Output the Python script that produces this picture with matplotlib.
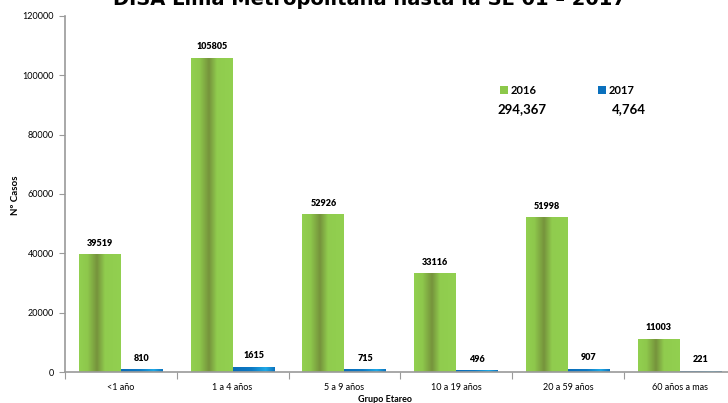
import matplotlib.pyplot as plt
import numpy as np
from matplotlib.colors import LinearSegmentedColormap
from matplotlib.patches import Rectangle

# casos por grupo etareo
grupos = ["<1 año", "1 a 4 años", "5 a 9 años", "10 a 19 años", "20 a 59 años", "60 años a mas"]
casos_2016 = [39519, 105805, 52926, 33116, 51998, 11003]
casos_2017 = [810, 1615, 715, 496, 907, 221]
y_ticks = [0, 20000, 40000, 60000, 80000, 100000, 120000]

FONT = "Lato"
GRAY = "#9a9a9a"

# horizontal gradients that mimic the shaded bars
green_cmap = LinearSegmentedColormap.from_list(
    "verde", [(0, "#92d050"), (0.2, "#8ec84c"), (0.43, "#76933c"), (0.62, "#90cc4e"), (1, "#92d050")])
blue_cmap = LinearSegmentedColormap.from_list(
    "azul", [(0, "#0a6cb8"), (0.45, "#0d7ac4"), (0.78, "#1fa9e6"), (1, "#0c72bd")])

fig = plt.figure(figsize=(7.28, 4.03), dpi=100)
W, H = 728, 403
ax = fig.add_axes([65 / W, 31 / H, 670.5 / W, 356 / H])

x = np.arange(len(grupos))
bw = 0.375
b16 = ax.bar(x - bw / 2, casos_2016, bw, color="none")
b17 = ax.bar(x + bw / 2, casos_2017, bw, color="none")

grad = np.linspace(0, 1, 256).reshape(1, -1)
for bars, cmap in ((b16, green_cmap), (b17, blue_cmap)):
    for r in bars:
        x0, w, h = r.get_x(), r.get_width(), r.get_height()
        ax.imshow(grad, cmap=cmap, extent=[x0, x0 + w, 0, h], aspect="auto", zorder=2)
        ax.annotate(f"{h:.0f}", (x0 + w / 2, h), xytext=(0, 5), textcoords="offset points",
                    ha="center", va="bottom", fontsize=6.5, fontweight="heavy", family=FONT)

ax.set_xlim(-0.5, len(grupos) - 0.5)
ax.set_ylim(0, 120000)

# category ticks sit between groups, labels at the centres
ax.set_xticks(np.arange(len(grupos) + 1) - 0.5)
ax.set_xticklabels([])
ax.set_xticks(x, minor=True)
ax.set_xticklabels(grupos, minor=True, fontsize=6.5, family=FONT)
ax.tick_params(axis="x", which="major", length=5, color=GRAY, width=0.8)
ax.tick_params(axis="x", which="minor", length=0, pad=8)

ax.set_yticks(y_ticks)
ax.set_yticklabels([str(v) for v in y_ticks], fontsize=6.5, family=FONT)
ax.tick_params(axis="y", length=4, color=GRAY, width=0.8, pad=4)

for s in ("top", "right"):
    ax.spines[s].set_visible(False)
for s in ("left", "bottom"):
    ax.spines[s].set_color(GRAY)
    ax.spines[s].set_linewidth(1.2)

fig.text(15 / W, 1 - 195 / H, "Nº Casos", rotation=90, ha="center", va="center",
         fontsize=7, fontweight="bold", family=FONT)
fig.text(385 / W, 1 - 400 / H, "Grupo Etareo", ha="center", va="center",
         fontsize=6.5, fontweight="bold", family=FONT)

fig.text(369 / W, 1 - 5 / H, "DISA Lima Metropolitana hasta la SE 01 – 2017", ha="center",
         va="baseline", fontsize=14, fontweight="bold", family="DejaVu Sans")

# totals block with its legend swatches
fig.add_artist(Rectangle((500 / W, 1 - 94 / H), 8 / W, 8 / H, transform=fig.transFigure,
                         facecolor="#8cc84a", edgecolor="none"))
fig.add_artist(Rectangle((598 / W, 1 - 94 / H), 8 / W, 8 / H, transform=fig.transFigure,
                         facecolor="#0a70bd", edgecolor="none"))
fig.text(511 / W, 1 - 90 / H, "2016", ha="left", va="center", fontsize=8, fontweight="bold", family=FONT)
fig.text(609 / W, 1 - 90 / H, "2017", ha="left", va="center", fontsize=8, fontweight="bold", family=FONT)
fig.text(497 / W, 1 - 109 / H, f"{sum(casos_2016):,}", ha="left", va="center",
         fontsize=9.5, fontweight="bold", family=FONT)
fig.text(612 / W, 1 - 109 / H, f"{sum(casos_2017):,}", ha="left", va="center",
         fontsize=9.5, fontweight="bold", family=FONT)

fig.savefig("out.png", dpi=100)
